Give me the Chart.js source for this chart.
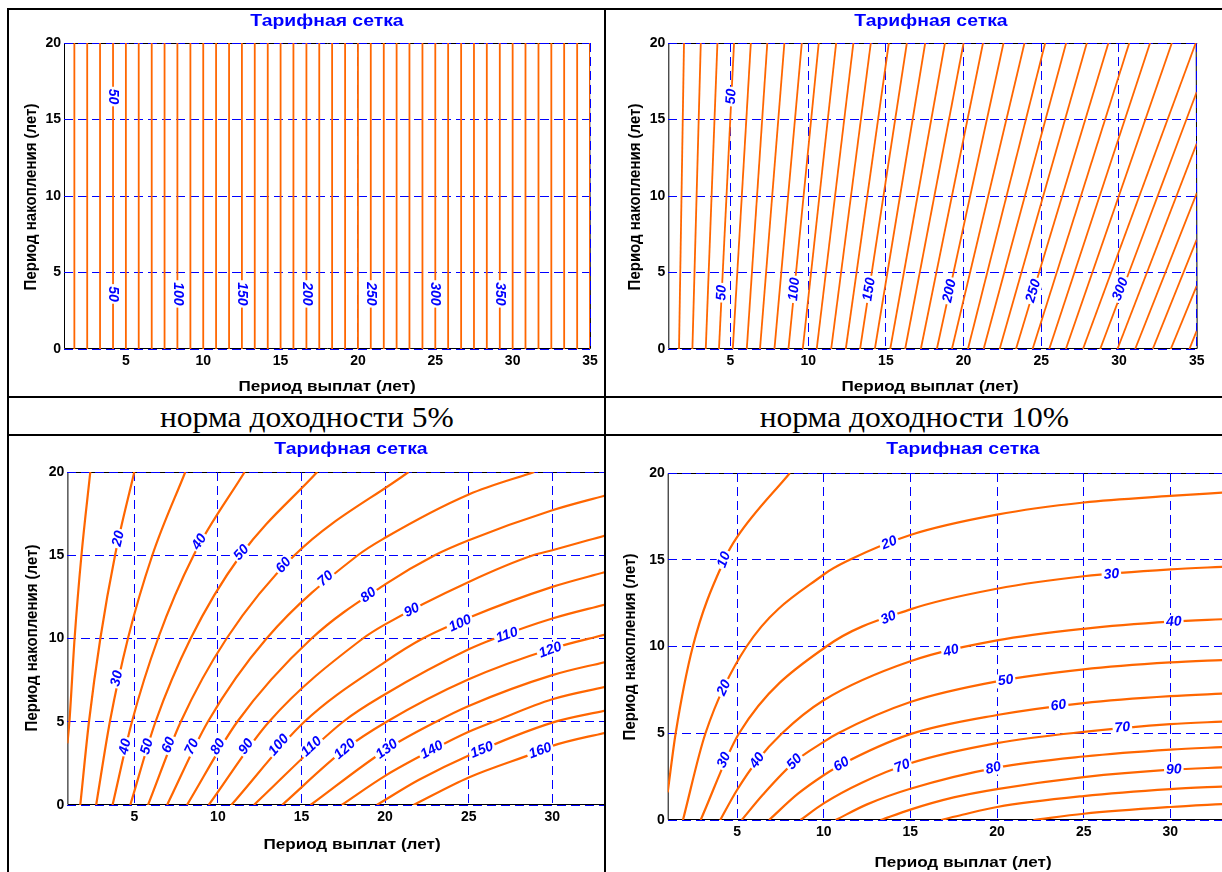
<!DOCTYPE html>
<html>
<head>
<meta charset="utf-8">
<script src="https://cdn.jsdelivr.net/npm/chart.js@4.4.0/dist/chart.umd.min.js"></script>
<style>
  html, body { margin: 0; padding: 0; background: #fff; }
  body { width: 1222px; height: 872px; position: relative; overflow: hidden; }
  canvas { position: absolute; }
  .rule { position: absolute; background: #000; }
  .cap { position: absolute; font-family: "Liberation Serif", "Times New Roman", serif; font-size: 30px;
         color: #000; text-align: center; line-height: 36px; }
  .cap span { display: inline-block; transform: scaleX(1.05); }
</style>
</head>
<body>
<canvas id="chartA" width="595" height="386" style="left:9px;top:10px"></canvas>
<canvas id="chartB" width="616" height="386" style="left:606px;top:10px"></canvas>
<canvas id="chartC" width="595" height="436" style="left:9px;top:436px"></canvas>
<canvas id="chartD" width="616" height="436" style="left:606px;top:436px"></canvas>

<div class="cap" style="left:9px;top:399px;width:595px;height:36px"><span>норма доходности 5%</span></div>
<div class="cap" style="left:606px;top:399px;width:616px;height:36px"><span>норма доходности 10%</span></div>

<div class="rule" style="left:7px;top:8px;width:1215px;height:2px"></div>
<div class="rule" style="left:7px;top:8px;width:2px;height:864px"></div>
<div class="rule" style="left:604px;top:8px;width:2px;height:864px"></div>
<div class="rule" style="left:7px;top:396px;width:1215px;height:2px"></div>
<div class="rule" style="left:7px;top:434px;width:1215px;height:2px"></div>

<script>
// --- tick labels ---
const xTicks = [5, 10, 15, 20, 25, 30, 35];
const yTicks = [0, 5, 10, 15, 20];

// --- 5%: vertical contour lines (x = payout years) ---
const levelsA = [20, 30, 40, 50, 60, 70, 80, 90, 100, 110, 120, 130, 140, 150, 160, 170, 180, 190, 200, 210,
  220, 230, 240, 250, 260, 270, 280, 290, 300, 310, 320, 330, 340, 350, 360, 370, 380, 390, 400, 410, 420];
const payA = [1.67, 2.5, 3.33, 4.17, 5, 5.83, 6.67, 7.5, 8.33, 9.17, 10, 10.83, 11.67, 12.5, 13.33, 14.17,
  15, 15.83, 16.67, 17.5, 18.33, 19.17, 20, 20.83, 21.67, 22.5, 23.33, 24.17, 25, 25.83, 26.67, 27.5,
  28.33, 29.17, 30, 30.83, 31.67, 32.5, 33.33, 34.17, 35];
const labelsA = [[50, 4.17, 16.5], [50, 4.17, 3.6], [100, 8.33, 3.6], [150, 12.5, 3.6], [200, 16.67, 3.6],
  [250, 20.83, 3.6], [300, 25, 3.6], [350, 29.17, 3.6]];

// --- 10%: slanted straight lines, start and end points ---
const levelsB = [20, 30, 40, 50, 60, 70, 80, 90, 100, 110, 120, 130, 140, 150, 160, 170, 180, 190, 200,
  210, 220, 230, 240, 250, 260, 270, 280, 290, 300, 310, 320, 330, 340, 350];
const startB = [[1.69, 0], [2.55, 0], [3.41, 0], [4.26, 0], [5.15, 0], [6.05, 0], [6.9, 0], [7.83, 0],
  [8.73, 0], [9.65, 0], [10.55, 0], [11.48, 0], [12.42, 0], [13.34, 0], [14.29, 0], [15.28, 0], [16.24, 0],
  [17.25, 0], [18.28, 0], [19.25, 0], [20.28, 0], [21.29, 0], [22.32, 0], [23.37, 0], [24.44, 0], [25.51, 0],
  [26.58, 0], [27.68, 0], [28.79, 0], [29.9, 0], [31.04, 0], [32.17, 0], [33.33, 0], [34.53, 0]];
const endB = [[2.01, 20], [3.09, 20], [4.16, 20], [5.23, 20], [6.31, 20], [7.37, 20], [8.47, 20], [9.59, 20],
  [10.68, 20], [11.8, 20], [12.91, 20], [14.03, 20], [15.19, 20], [16.35, 20], [17.53, 20], [18.8, 20],
  [20.0, 20], [21.25, 20], [22.57, 20], [23.92, 20], [25.25, 20], [26.6, 20], [27.93, 20], [29.32, 20],
  [30.66, 20], [32.0, 20], [33.4, 20], [34.94, 20], [35, 16.79], [35, 13.43], [35, 10.18], [35, 7.15],
  [35, 4.12], [35, 1.19]];
const labelsB = [[50, 5.06, 16.5], [50, 4.44, 3.68], [100, 9.11, 3.9], [150, 13.93, 3.9], [200, 19.1, 3.8],
  [250, 24.5, 3.8], [300, 30.1, 3.9]];

// --- lower left: curved contours ---
const levelsC = [10, 20, 30, 40, 50, 60, 70, 80, 90, 100, 110, 120, 130, 140, 150, 160];
const curvesC = [
  [[1, 3.7], [1.12, 5], [1.43, 10], [1.84, 15], [2.37, 20]],
  [[1.77, 0], [2.29, 5], [2.97, 10], [3.85, 15], [5.0, 20]],
  [[2.72, 0], [3.54, 5], [4.62, 10], [6.08, 15], [8.05, 20]],
  [[3.7, 0], [4.86, 5], [6.42, 10], [8.55, 15], [11.6, 20]],
  [[4.76, 0], [6.27, 5], [8.37, 10], [11.36, 15], [15.94, 20]],
  [[5.82, 0], [7.78, 5], [10.52, 10], [14.58, 15], [21.4, 20]],
  [[6.96, 0], [9.4, 5], [12.91, 10], [18.37, 15], [20, 16.05], [25, 18.65], [28.92, 20]],
  [[8.15, 0], [11.16, 5], [15.6, 10], [20, 13.25], [22.97, 15], [25, 15.9], [30, 17.7], [33.2, 18.6]],
  [[9.45, 0], [13.06, 5], [18.67, 10], [20, 10.85], [25, 13.4], [28.85, 15], [30, 15.3], [33.2, 16.2]],
  [[10.8, 0], [15.17, 5], [20, 8.6], [22.25, 10], [25, 11.25], [30, 13.1], [33.2, 14.0]],
  [[12.15, 0], [17.49, 5], [20, 6.65], [25, 9.35], [26.56, 10], [30, 11.2], [33.2, 12.05]],
  [[13.84, 0], [17.6, 3.35], [20.09, 5], [25, 7.55], [30, 9.4], [33.2, 10.25]],
  [[15.54, 0], [20.1, 3.35], [23.05, 5], [25, 5.95], [30, 7.8], [33.2, 8.6]],
  [[17.4, 0], [20, 1.75], [22.8, 3.3], [25, 4.4], [26.49, 5], [30, 6.35], [33.2, 7.1]],
  [[19.5, 0], [22, 1.5], [25, 2.98], [30, 4.95], [33.2, 5.68]],
  [[21.7, 0], [25, 1.65], [29.28, 3.25], [30, 3.55], [33.2, 4.35]]
];
const labelsC = [[20, 4.06, 16.0], [40, 8.89, 15.8], [50, 11.41, 15.16], [60, 13.94, 14.4], [70, 16.44, 13.6],
  [80, 19.0, 12.6], [90, 21.6, 11.7], [100, 24.49, 10.9], [110, 27.29, 10.2], [120, 29.88, 9.3],
  [30, 3.96, 7.6], [40, 4.46, 3.5], [50, 5.76, 3.5], [60, 7.06, 3.6], [70, 8.45, 3.5], [80, 10.01, 3.5],
  [90, 11.69, 3.5], [100, 13.64, 3.6], [110, 15.6, 3.5], [120, 17.6, 3.35], [130, 20.1, 3.35],
  [140, 22.8, 3.3], [150, 25.79, 3.3], [160, 29.28, 3.25]];

// --- lower right: curved contours ---
const levelsD = [10, 20, 30, 40, 50, 60, 70, 80, 90, 100, 110];
const curvesD = [
  [[1, 1.6], [1.46, 5], [2.45, 10], [4.27, 15], [5, 16.3], [8.05, 20]],
  [[1.88, 0], [3.18, 5], [5.55, 10], [10, 14.15], [11.5, 15], [15, 16.43], [20, 17.6], [25, 18.3], [30, 18.68], [33.2, 18.88]],
  [[2.9, 0], [5.12, 5], [10.15, 10], [15, 12.14], [20, 13.33], [25, 14.05], [30, 14.45], [33.2, 14.6]],
  [[4.03, 0], [5, 1.73], [6.17, 3.43], [7.6, 5], [10, 6.9], [15, 9.15], [20, 10.35], [25, 11.02], [30, 11.43], [33.2, 11.58]],
  [[5.27, 0], [6.5, 1.47], [8.32, 3.35], [10, 4.5], [10.83, 5], [15, 6.8], [20, 7.99], [25, 8.68], [30, 9.08], [33.2, 9.23]],
  [[6.85, 0], [8.5, 1.5], [10, 2.58], [11.03, 3.2], [15, 4.95], [20, 6.05], [25, 6.74], [30, 7.14], [33.2, 7.29]],
  [[8.66, 0], [10, 0.96], [12.2, 2.15], [15, 3.27], [20, 4.43], [25, 5.08], [30, 5.53], [33.2, 5.68]],
  [[10.69, 0], [12.5, 0.9], [15, 1.8], [20, 3.02], [25, 3.66], [30, 4.06], [33.2, 4.21]],
  [[13.28, 0], [15, 0.6], [17.5, 1.3], [20, 1.78], [25, 2.47], [30, 2.9], [33.2, 3.04]],
  [[16.78, 0], [18, 0.3], [20, 0.75], [25, 1.38], [30, 1.78], [33.2, 1.94]],
  [[22.1, 0], [25, 0.36], [30, 0.75], [33.2, 0.93]]
];
const labelsD = [[10, 4.25, 15.0], [20, 4.25, 7.62], [30, 4.25, 3.45], [40, 6.17, 3.43], [50, 8.32, 3.35],
  [60, 11.03, 3.2], [70, 14.53, 3.1], [80, 19.79, 2.98], [90, 30.2, 2.9], [20, 13.78, 15.97],
  [30, 13.74, 11.65], [30, 26.6, 14.15], [40, 17.35, 9.75], [40, 30.2, 11.42], [50, 20.5, 8.05],
  [60, 23.55, 6.6], [70, 27.23, 5.32]];

const FONT = '"Liberation Sans", Arial, sans-serif';
const ORANGE = '#ff6600';
const BLUE = '#0000ff';
const STRETCH = 1.14;   // the source texts are a little wider than the plain font

// plugin: frame, contour labels, titles
const deco = {
  id: 'deco',
  beforeDraw(chart, args, o) {
    const { ctx, chartArea: a } = chart;
    ctx.save();
    ctx.strokeStyle = '#000';
    ctx.lineWidth = 1;
    ctx.beginPath();
    ctx.moveTo(a.right + (o.rightFrame ? 0.5 : 0), a.top + 0.5);
    ctx.lineTo(a.left + 0.5, a.top + 0.5);
    ctx.lineTo(a.left + 0.5, a.bottom - 0.5);
    ctx.lineTo(a.right + (o.rightFrame ? 0.5 : 0), a.bottom - 0.5);
    if (o.rightFrame) ctx.lineTo(a.right - 0.5, a.top + 0.5);
    ctx.stroke();
    ctx.restore();
  },
  afterDatasetsDraw(chart, args, o) {
    const { ctx, scales: { x, y } } = chart;
    ctx.save();
    ctx.font = 'italic bold 14px ' + FONT;
    ctx.textAlign = 'center';
    ctx.textBaseline = 'middle';
    o.labels.forEach(([lev, lx, ly]) => {
      const pts = o.curves[o.levels.indexOf(lev)].map(p => [x.getPixelForValue(p[0]), y.getPixelForValue(p[1])]);
      const px = x.getPixelForValue(lx), py = y.getPixelForValue(ly);
      let best = Infinity, dir = [0, -1];
      for (let i = 0; i < pts.length - 1; i++) {
        const [x0, y0] = pts[i], [x1, y1] = pts[i + 1];
        const dx = x1 - x0, dy = y1 - y0;
        let t = ((px - x0) * dx + (py - y0) * dy) / (dx * dx + dy * dy);
        t = Math.max(0, Math.min(1, t));
        const d = Math.hypot(x0 + t * dx - px, y0 + t * dy - py);
        if (d < best) { best = d; dir = [dx, dy]; }
      }
      let ang = Math.atan2(dir[1], dir[0]);
      if (o.flipVertical && Math.abs(dir[0]) < 0.01) ang = Math.PI / 2;
      const txt = String(lev);
      ctx.save();
      ctx.translate(px, py);
      ctx.rotate(ang);
      const w = ctx.measureText(txt).width;
      ctx.fillStyle = '#fff';
      ctx.fillRect(-w / 2 - 2, -7, w + 4, 14);
      ctx.fillStyle = BLUE;
      ctx.fillText(txt, 0, 0);
      ctx.restore();
    });
    ctx.restore();
  },
  afterDraw(chart, args, o) {
    const ctx = chart.ctx;
    const put = (txt, p, rot) => {
      ctx.save();
      ctx.translate(p[0] - o.left, p[1] - o.top);
      if (rot) { ctx.rotate(-Math.PI / 2); ctx.scale(1, STRETCH); } else ctx.scale(STRETCH, 1);
      ctx.fillText(txt, 0, 0);
      ctx.restore();
    };
    ctx.save();
    ctx.textAlign = 'center';
    ctx.textBaseline = 'middle';
    ctx.fillStyle = BLUE;
    ctx.font = 'bold 17px ' + FONT;
    put('Тарифная сетка', o.title, false);
    ctx.fillStyle = '#000';
    ctx.font = 'bold 15px ' + FONT;
    put('Период выплат (лет)', o.xTitle, false);
    put('Период накопления (лет)', o.yTitle, true);
    ctx.restore();
  }
};

function makeChart(id, spec, curves, width, smooth) {
  const datasets = curves.map(c => ({
    data: c.map(p => ({ x: p[0], y: p[1] })),
    showLine: true,
    pointRadius: 0,
    borderColor: ORANGE,
    borderWidth: width,
    tension: 0,
    cubicInterpolationMode: smooth ? 'monotone' : 'default'
  }));
  const gridOpts = { color: BLUE, lineWidth: 1, drawTicks: false };
  const tickFont = { family: FONT, size: 14, weight: 'bold' };
  return new Chart(document.getElementById(id), {
    type: 'scatter',
    data: { datasets },
    options: {
      responsive: false,
      animation: false,
      devicePixelRatio: 1,
      events: [],
      layout: { padding: { left: 0, top: spec.area.top, right: spec.w - spec.area.right, bottom: 0 } },
      plugins: { legend: { display: false }, tooltip: { enabled: false }, deco: spec },
      scales: {
        x: {
          type: 'linear', min: 1, max: spec.xMax,
          afterBuildTicks: s => { s.ticks = xTicks.filter(v => v <= spec.xMax).map(v => ({ value: v })); },
          afterFit: s => { s.height = spec.h - spec.area.bottom; },
          grid: gridOpts,
          border: { display: false, dash: [9, 5] },
          ticks: { color: '#000', font: tickFont, padding: 4, maxRotation: 0 }
        },
        y: {
          type: 'linear', min: 0, max: 20,
          afterBuildTicks: s => { s.ticks = yTicks.map(v => ({ value: v })); },
          afterFit: s => { s.width = spec.area.left; },
          grid: gridOpts,
          border: { display: false, dash: [9, 5] },
          ticks: { color: '#000', font: tickFont, padding: 3 }
        }
      }
    },
    plugins: [deco]
  });
}

const linesA = payA.map(v => [[v, 0], [v, 20]]);
const linesB = startB.map((s, i) => [s, endB[i]]);

makeChart('chartA', {
  left: 9, top: 10, w: 595, h: 386, area: { left: 55, top: 33, right: 581, bottom: 339 }, xMax: 35,
  title: [327, 21], xTitle: [327, 387], yTitle: [31, 197], rightFrame: true, flipVertical: true,
  levels: levelsA, curves: linesA, labels: labelsA
}, linesA, 1.8, false);

makeChart('chartB', {
  left: 606, top: 10, w: 616, h: 386, area: { left: 62.3, top: 33, right: 590.7, bottom: 339 }, xMax: 35,
  title: [931, 21], xTitle: [930, 387], yTitle: [635, 197], rightFrame: true, flipVertical: false,
  levels: levelsB, curves: linesB, labels: labelsB
}, linesB, 1.8, false);

makeChart('chartC', {
  left: 9, top: 436, w: 595, h: 436, area: { left: 58.4, top: 36, right: 595, bottom: 369 }, xMax: 33.09,
  title: [351, 449], xTitle: [352, 845], yTitle: [32, 638], rightFrame: false, flipVertical: false,
  levels: levelsC, curves: curvesC, labels: labelsC
}, curvesC, 2.2, true);

makeChart('chartD', {
  left: 606, top: 436, w: 616, h: 436, area: { left: 61.7, top: 37, right: 616, bottom: 384 }, xMax: 32.98,
  title: [963, 449], xTitle: [963, 863], yTitle: [630, 647], rightFrame: false, flipVertical: false,
  levels: levelsD, curves: curvesD, labels: labelsD
}, curvesD, 2.2, true);
</script>
</body>
</html>
